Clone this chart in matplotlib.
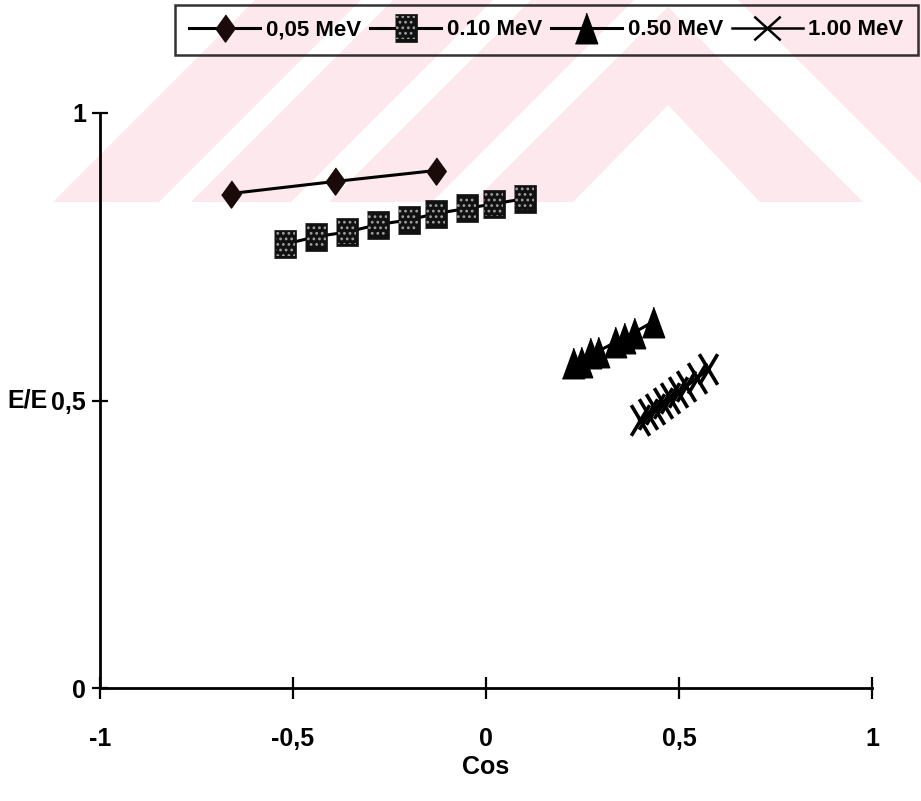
import matplotlib
matplotlib.use("Agg")
import matplotlib.pyplot as plt
import numpy as np
from matplotlib.path import Path
from matplotlib.patches import Polygon
from matplotlib.lines import Line2D
from matplotlib.legend_handler import HandlerTuple

plt.rcParams['font.family'] = ['Liberation Sans', 'DejaVu Sans']
plt.rcParams['font.weight'] = 'bold'
plt.rcParams['hatch.linewidth'] = 1.2

# cos(theta) vs E'/E for four photon energies
cos_005 = [-0.66, -0.39, -0.13]
e_005 = [0.860, 0.881, 0.900]

cos_010 = [-0.52, -0.44, -0.36, -0.28, -0.20, -0.13, -0.05, 0.02, 0.10]
e_010 = [0.772, 0.785, 0.793, 0.806, 0.814, 0.825, 0.834, 0.842, 0.851]

cos_050 = [0.226, 0.246, 0.269, 0.289, 0.334, 0.358, 0.383, 0.433]
e_050 = [0.566, 0.567, 0.583, 0.585, 0.601, 0.609, 0.618, 0.637]

cos_100 = [0.399, 0.420, 0.438, 0.458, 0.477, 0.497, 0.518, 0.546, 0.575]
e_100 = [0.466, 0.476, 0.485, 0.496, 0.504, 0.515, 0.525, 0.539, 0.555]

labels = ['0,05 MeV', '0.10 MeV', '0.50 MeV', '1.00 MeV']
xticks = [-1, -0.5, 0, 0.5, 1]
xtick_labels = ['-1', '-0,5', '0', '0,5', '1']
yticks = [0, 0.5, 1]
ytick_labels = ['0', '0,5', '1']

W, H = 921, 801
fig = plt.figure(figsize=(W / 100, H / 100), dpi=100, facecolor='white')

# faint background stripes
pink = '#fce8ed'
def px(pts):
    return [(x / W, 1 - y / H) for x, y in pts]
stripes = [
    [(53, 202), (159, 202), (361, 0), (255, 0)],
    [(191, 202), (291, 202), (493, 0), (393, 0)],
    [(329, 202), (432, 202), (634, 0), (531, 0)],
    [(473, 202), (668, 7), (863, 202), (760, 202), (668, 105), (573, 202)],
    [(738, 0), (921, 0), (921, 183)],
]
for s in stripes:
    fig.add_artist(Polygon(px(s), closed=True, facecolor=pink, edgecolor='none',
                           transform=fig.transFigure, zorder=-5))

ax = fig.add_axes([100 / W, 113 / H, 772 / W, 575 / H])
ax.patch.set_alpha(0)

diamond = [(0, 1), (0.72, 0), (0, -1), (-0.72, 0)]
rect = [(-0.8, -1), (0.8, -1), (0.8, 1), (-0.8, 1)]
tri = [(0, 1), (0.73, -1), (-0.73, -1)]
cross = Path([(-0.6, -1), (0.6, 1), (-0.6, 1), (0.6, -1)],
             [Path.MOVETO, Path.LINETO, Path.MOVETO, Path.LINETO])
cross_leg = Path([(-1, -0.9), (1, 0.9), (-1, 0.9), (1, -0.9)],
                 [Path.MOVETO, Path.LINETO, Path.MOVETO, Path.LINETO])

l1, = ax.plot(cos_005, e_005, color='black', lw=2.2, marker=diamond, ms=19.5,
              mfc='#1a0a0a', mec='#1a0a0a', clip_on=False)
l2, = ax.plot(cos_010, e_010, color='black', lw=2.2, clip_on=False)
s2a = ax.scatter(cos_010, e_010, marker=rect, s=19.5 ** 2, facecolor='#111111',
                 edgecolor='#111111', linewidths=0.5, zorder=3, clip_on=False)
s2b = ax.scatter(cos_010, e_010, marker=rect, s=17 ** 2, facecolor='none',
                 edgecolor='#a0a0a0', linewidths=0, hatch='...', zorder=4, clip_on=False)
l3, = ax.plot(cos_050, e_050, color='black', lw=2.2, marker=tri, ms=22,
              mfc='black', mec='black', clip_on=False)
l4, = ax.plot(cos_100, e_100, color='black', lw=2.8, marker=cross, ms=22,
              mfc='none', mec='black', mew=2.6, clip_on=False)

ax.set_xlim(-1, 1)
ax.set_ylim(0, 1)
ax.set_xticks(xticks)
ax.set_xticklabels(xtick_labels)
ax.set_yticks(yticks)
ax.set_yticklabels(ytick_labels)
for side in ['top', 'right']:
    ax.spines[side].set_visible(False)
for side in ['left', 'bottom']:
    ax.spines[side].set_linewidth(2)
ax.tick_params(axis='x', direction='inout', length=16, width=1.6, pad=20, labelsize=18)
ax.tick_params(axis='y', direction='inout', length=12, width=1.6, pad=4, labelsize=18)

ax.set_xlabel('Cos', fontsize=18, fontweight='bold', va='center')
ax.xaxis.set_label_coords(0.5, -0.137)
ax.set_ylabel('E/E', fontsize=18, fontweight='bold', rotation=0, ha='right', va='center')
ax.yaxis.set_label_coords(-0.068, 0.5)

h4 = Line2D([], [], color='black', lw=1.8, marker=cross_leg, ms=19, mfc='none',
            mec='black', mew=1.8)
leg = fig.legend([l1, (l2, s2a, s2b), l3, h4], labels, ncol=4,
                 loc='upper right', bbox_to_anchor=(918 / W, 1 - 5 / H),
                 handler_map={tuple: HandlerTuple(ndivide=1)},
                 numpoints=1, scatterpoints=1, scatteryoffsets=[0.5],
                 fontsize=16, handlelength=3.2, handletextpad=0.25, columnspacing=0.4,
                 borderpad=0.65, borderaxespad=0, fancybox=False,
                 edgecolor='black')
leg.get_frame().set_facecolor('none')
leg.get_frame().set_linewidth(1.8)

fig.savefig('out.png', dpi=100, facecolor='white')
